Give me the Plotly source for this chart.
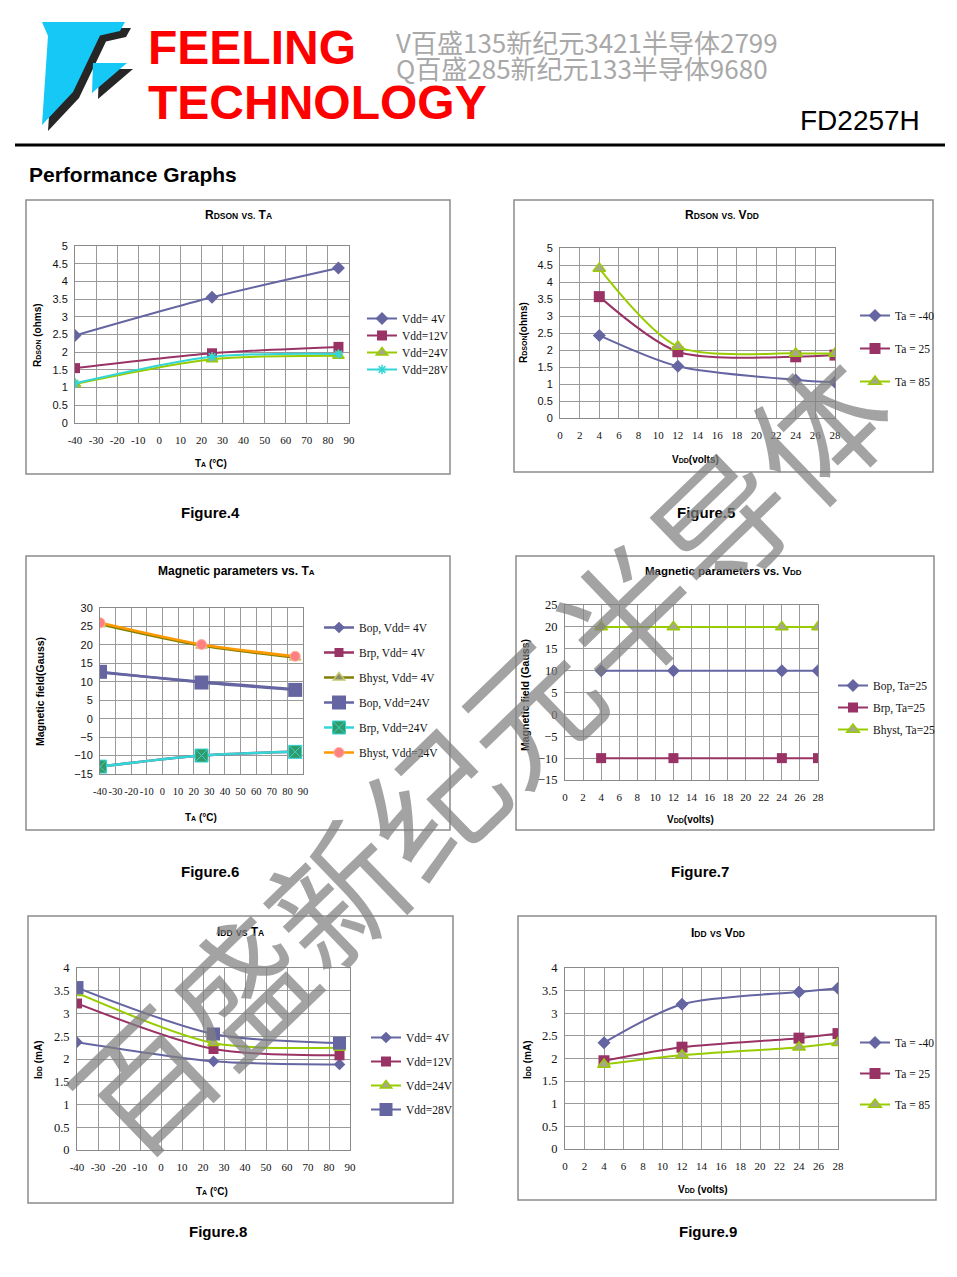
import plotly.graph_objects as go

W, H = 957, 1277
OFF = 8  # page body margin of the html page


def PX(x): return (x - OFF) / W
def PY(y): return 1 - (y - OFF) / H

# ---------------- data ----------------
ta = [-40, 25, 85]
vdd = [4, 12, 24, 28]

ta_ticks = [-40, -30, -20, -10, 0, 10, 20, 30, 40, 50, 60, 70, 80, 90]
vdd_ticks = [0, 2, 4, 6, 8, 10, 12, 14, 16, 18, 20, 22, 24, 26, 28]

rdson_ta_names = ['Vdd= 4V', 'Vdd=12V', 'Vdd=24V', 'Vdd=28V']
rdson_ta_4v = [2.47, 3.55, 4.38]
rdson_ta_12v = [1.55, 1.97, 2.15]
rdson_ta_24v = [1.10, 1.80, 1.90]
rdson_ta_28v = [1.12, 1.87, 1.95]

rdson_vdd_names = ['Ta = -40', 'Ta = 25', 'Ta = 85']
rdson_vdd_m40 = [2.43, 1.52, 1.12, 1.05]
rdson_vdd_25 = [3.57, 1.95, 1.80, 1.85]
rdson_vdd_85 = [4.40, 2.10, 1.90, 1.90]

mag_ta_names = ['Bop, Vdd= 4V', 'Brp, Vdd= 4V', 'Bhyst, Vdd= 4V',
                'Bop, Vdd=24V', 'Brp, Vdd=24V', 'Bhyst, Vdd=24V']
bop_4v = [12.5, 10.0, 8.0]
brp_4v = [-13.0, -10.0, -9.0]
bhyst_4v = [25.6, 19.8, 16.6]
bop_24v = [12.7, 9.8, 7.8]
brp_24v = [-13.0, -10.0, -9.0]
bhyst_24v = [26.0, 20.1, 16.9]

mag_vdd_names = ['Bop, Ta=25', 'Brp, Ta=25', 'Bhyst, Ta=25']
bop_25 = [10, 10, 10, 10]
brp_25 = [-10, -10, -10, -10]
bhyst_25 = [20, 20, 20, 20]

idd_ta_names = ['Vdd= 4V', 'Vdd=12V', 'Vdd=24V', 'Vdd=28V']
idd_ta_4v = [2.37, 1.95, 1.88]
idd_ta_12v = [3.22, 2.22, 2.08]
idd_ta_24v = [3.45, 2.35, 2.25]
idd_ta_28v = [3.57, 2.55, 2.35]

idd_vdd_names = ['Ta = -40', 'Ta = 25', 'Ta = 85']
idd_vdd_m40 = [2.35, 3.20, 3.47, 3.55]
idd_vdd_25 = [1.95, 2.25, 2.45, 2.55]
idd_vdd_85 = [1.87, 2.07, 2.25, 2.35]

# ---------------- styles ----------------
SB = '#6565A2'
MR = '#993366'
GR = '#99CC00'
CY = '#33D6D6'
OL = '#808000'
OR = '#FF9900'
SANS = 'Liberation Sans, Arial'
SERIF = 'Liberation Serif, Times New Roman'

fig = go.Figure()

charts = [
    dict(box=(26, 200, 450, 474), plot=(75, 246, 349, 423), xr=(-40, 90), xt=ta_ticks, yr=(0, 5), yd=0.5,
         xfs=11, yfont=SANS, yfs=11, leg=(362, 304), gap=0),
    dict(box=(514, 200, 933, 472), plot=(560, 248, 835, 418), xr=(0, 28), xt=vdd_ticks, yr=(0, 5), yd=0.5,
         xfs=11, yfont=SANS, yfs=11, leg=(855, 301), gap=14),
    dict(box=(26, 556, 450, 830), plot=(100, 608, 303, 774), xr=(-40, 90), xt=ta_ticks, yr=(-15, 30), yd=5,
         xfs=10.5, yfont=SANS, yfs=11, leg=(319, 613), gap=6),
    dict(box=(516, 556, 934, 830), plot=(565, 605, 818, 780), xr=(0, 28), xt=vdd_ticks, yr=(-15, 25), yd=5,
         xfs=11, yfont=SERIF, yfs=12.5, leg=(833, 671), gap=3),
    dict(box=(28, 916, 453, 1203), plot=(77, 968, 350, 1150), xr=(-40, 90), xt=ta_ticks, yr=(0, 4), yd=0.5,
         xfs=11, yfont=SERIF, yfs=12.5, leg=(366, 1023), gap=5),
    dict(box=(518, 916, 936, 1200), plot=(565, 968, 838, 1149), xr=(0, 28), xt=vdd_ticks, yr=(0, 4), yd=0.5,
         xfs=11, yfont=SERIF, yfs=12.5, leg=(855, 1028), gap=12),
]

layout = {}
shapes = []
annotations = []


def legend_box(lx, ly, gap):
    return dict(x=PX(lx), y=PY(ly), xanchor='left', yanchor='top', bgcolor='rgba(0,0,0,0)',
                font=dict(family=SERIF, size=11.5, color='#111'), tracegroupgap=gap,
                itemwidth=30, traceorder='grouped', itemclick=False, itemdoubleclick=False)


for i, c in enumerate(charts):
    n = '' if i == 0 else str(i + 1)
    l, t, r, b = c['plot']
    layout['xaxis' + n] = dict(
        domain=[PX(l), PX(r)], range=list(c['xr']), tickmode='array', tickvals=c['xt'],
        ticktext=[str(v) for v in c['xt']], anchor='y' + n,
        showgrid=True, gridcolor='#9A9A9A', gridwidth=1, zeroline=False,
        showline=True, mirror=True, linecolor='#8A8A8A', linewidth=1,
        ticks='outside', ticklen=7, tickcolor='rgba(0,0,0,0)', tickangle=0,
        tickfont=dict(family=SERIF, size=c['xfs'], color='#111'), fixedrange=True)
    layout['yaxis' + n] = dict(
        domain=[PY(b), PY(t)], range=list(c['yr']), dtick=c['yd'], tick0=0, anchor='x' + n,
        showgrid=True, gridcolor='#9A9A9A', gridwidth=1, zeroline=False,
        showline=True, mirror=True, linecolor='#8A8A8A', linewidth=1,
        ticks='outside', ticklen=4, tickcolor='rgba(0,0,0,0)',
        tickfont=dict(family=c['yfont'], size=c['yfs'], color='#111'), fixedrange=True)
    lx, ly = c['leg']
    layout['legend' + n] = legend_box(lx, ly, c['gap'])
    bx0, by0, bx1, by1 = c['box']
    shapes.append(dict(type='rect', xref='paper', yref='paper', x0=PX(bx0), x1=PX(bx1),
                       y0=PY(by1), y1=PY(by0), line=dict(color='#8C8C8C', width=1.5),
                       layer='below'))

# Figure 4 legend entries are tighter than one plotly legend allows: one legend per entry
fig4_legends = ['legend', 'legend7', 'legend8', 'legend9']
for k, lg in enumerate(fig4_legends[1:], start=1):
    layout[lg] = legend_box(362, 304 + 17 * k, 0)


def add(ci, x, y, name, color, symbol, msize, mfill=None, mline=None, mlw=0, lw=2,
        shape='spline', legend=None):
    n = '' if ci == 0 else str(ci + 1)
    fig.add_trace(go.Scatter(
        x=x, y=y, name=name, mode='lines+markers',
        line=dict(color=color, width=lw, shape=shape, smoothing=0.8),
        marker=dict(symbol=symbol, size=msize, color=mfill or color,
                    line=dict(color=mline or color, width=mlw)),
        xaxis='x' + n, yaxis='y' + n, legend=legend or ('legend' + n),
        legendgroup='c%d_%s' % (ci, name), hoverinfo='skip'))

# Figure 4
add(0, ta, rdson_ta_4v, rdson_ta_names[0], SB, 'diamond', 10, legend=fig4_legends[0])
add(0, ta, rdson_ta_12v, rdson_ta_names[1], MR, 'square', 10, legend=fig4_legends[1])
add(0, ta, rdson_ta_24v, rdson_ta_names[2], GR, 'triangle-up', 10, '#A7A78A', GR, 1.5,
    legend=fig4_legends[2])
add(0, ta, rdson_ta_28v, rdson_ta_names[3], CY, 'asterisk-open', 8, None, CY, 1.5,
    legend=fig4_legends[3])
# Figure 5
add(1, vdd, rdson_vdd_m40, rdson_vdd_names[0], SB, 'diamond', 10)
add(1, vdd, rdson_vdd_25, rdson_vdd_names[1], MR, 'square', 11)
add(1, vdd, rdson_vdd_85, rdson_vdd_names[2], GR, 'triangle-up', 11, '#A7A78A', GR, 1.5)
# Figure 6
add(2, ta, bop_4v, mag_ta_names[0], SB, 'diamond', 9, lw=2.5)
add(2, ta, brp_4v, mag_ta_names[1], MR, 'square', 9, lw=2.5)
add(2, ta, bhyst_4v, mag_ta_names[2], OL, 'triangle-up', 10, '#8C8C6E', '#C8C870', 1.5, lw=2.5)
add(2, ta, bop_24v, mag_ta_names[3], SB, 'square', 14, lw=2.5)
add(2, ta, brp_24v, mag_ta_names[4], CY, 'square-x', 13, '#339966', '#33D6D6', 1, lw=2.5)
add(2, ta, bhyst_24v, mag_ta_names[5], OR, 'circle', 10, '#FF8080', '#FFB0A0', 1, lw=2.5)
# Figure 7
add(3, vdd, bop_25, mag_vdd_names[0], SB, 'diamond', 10, shape='linear')
add(3, vdd, brp_25, mag_vdd_names[1], MR, 'square', 10, shape='linear')
add(3, vdd, bhyst_25, mag_vdd_names[2], GR, 'triangle-up', 11, '#A7A78A', GR, 1.5, shape='linear')
# Figure 8
add(4, ta, idd_ta_4v, idd_ta_names[0], SB, 'diamond', 9)
add(4, ta, idd_ta_12v, idd_ta_names[1], MR, 'square', 10)
add(4, ta, idd_ta_24v, idd_ta_names[2], GR, 'triangle-up', 10, '#A7A78A', GR, 1.5)
add(4, ta, idd_ta_28v, idd_ta_names[3], SB, 'square', 13)
# Figure 9
add(5, vdd, idd_vdd_m40, idd_vdd_names[0], SB, 'diamond', 10)
add(5, vdd, idd_vdd_25, idd_vdd_names[1], MR, 'square', 11)
add(5, vdd, idd_vdd_85, idd_vdd_names[2], GR, 'triangle-up', 11, '#A7A78A', GR, 1.5)


def sc(s, sz):
    return "<span style='font-size:%spx'>%s</span>" % (sz, s)


def ann(x, y, text, size, family=SANS, color='#000', angle=0, xanchor='center', bold=False):
    f = dict(family=family, size=size, color=color)
    if bold:
        f['weight'] = 'bold'
    annotations.append(dict(x=PX(x), y=PY(y), xref='paper', yref='paper', text=text,
                            showarrow=False, font=f, textangle=angle, xanchor=xanchor,
                            yanchor='middle'))

# chart titles
ann(238, 215, 'R' + sc('DSON', 8.5) + ' ' + sc('VS.', 8.5) + ' T' + sc('A', 8.5), 12, bold=True)
ann(722, 215, 'R' + sc('DSON', 8.5) + ' ' + sc('VS.', 8.5) + ' V' + sc('DD', 8.5), 12, bold=True)
ann(236, 571, 'Magnetic parameters vs. T' + sc('A', 8), 12, bold=True)
ann(723, 571, 'Magnetic parameters vs. V' + sc('DD', 8), 11.5, bold=True)
ann(240, 932, 'I' + sc('DD', 8.5) + ' ' + sc('VS', 8.5) + ' T' + sc('A', 8.5), 12, bold=True)
ann(718, 933, 'I' + sc('DD', 8.5) + ' ' + sc('VS', 8.5) + ' V' + sc('DD', 8.5), 12, bold=True)

# axis titles
ann(37, 335, 'R' + sc('DSON', 7) + ' (ohms)', 10, angle=-90, bold=True)
ann(524, 333, 'R' + sc('DSON', 7) + '(ohms)', 10, angle=-90, bold=True)
ann(40, 692, 'Magnetic field(Gauss)', 10.5, angle=-90, bold=True)
ann(525, 695, 'Magnetic field (Gauss)', 10.5, angle=-90, bold=True)
ann(38, 1060, 'I' + sc('DD', 7) + ' (mA)', 10, angle=-90, bold=True)
ann(527, 1060, 'I' + sc('DD', 7) + ' (mA)', 10, angle=-90, bold=True)

ann(211, 463, 'T' + sc('A', 7) + ' (°C)', 10, bold=True)
ann(695, 460, 'V' + sc('DD', 7) + '(volts)', 10, bold=True)
ann(201, 817, 'T' + sc('A', 7) + ' (°C)', 10, bold=True)
ann(690, 819, 'V' + sc('DD', 7) + '(volts)', 10, bold=True)
ann(212, 1191, 'T' + sc('A', 7) + ' (°C)', 10, bold=True)
ann(703, 1189, 'V' + sc('DD', 7) + ' (volts)', 10, bold=True)

# figure labels
for (x, y, t) in [(210, 512, 'Figure.4'), (706, 512, 'Figure.5'), (210, 871, 'Figure.6'),
                  (700, 871, 'Figure.7'), (218, 1231, 'Figure.8'), (708, 1231, 'Figure.9')]:
    ann(x, y, t, 15, bold=True)

# header
ann(146, 48, 'FEELING', 48, color='#FF0000', xanchor='left', bold=True)
ann(146, 103, 'TECHNOLOGY', 48, color='#FF0000', xanchor='left', bold=True)
ann(394, 42, 'V百盛135新纪元3421半导体2799', 26, family='Noto Sans CJK SC', color='#A8A8A8',
    xanchor='left')
ann(394, 68, 'Q百盛285新纪元133半导体9680', 26, family='Noto Sans CJK SC', color='#A8A8A8',
    xanchor='left')
ann(922, 121, 'FD2257H', 28, color='#000', xanchor='right')
ann(27, 174, 'Performance Graphs', 21, xanchor='left', bold=True)

shapes.append(dict(type='line', xref='paper', yref='paper', x0=PX(15), x1=PX(945),
                   y0=PY(145), y1=PY(145), line=dict(color='#000', width=3)))


def path(pts, dx=0, dy=0):
    return 'M ' + ' L '.join('%f,%f' % (PX(x + dx), PY(y + dy)) for x, y in pts) + ' Z'

logo_main = [(42, 22), (125, 22), (120, 31), (100, 35.5), (73, 92), (42, 125), (48, 36)]
logo_small = [(93, 63), (127, 63), (92, 93)]
for pts in (logo_main, logo_small):
    shapes.append(dict(type='path', xref='paper', yref='paper', path=path(pts, 6, 6),
                       fillcolor='rgba(0,0,0,0.85)', line=dict(width=0)))
for pts in (logo_main, logo_small):
    shapes.append(dict(type='path', xref='paper', yref='paper', path=path(pts),
                       fillcolor='#16C8F6', line=dict(width=0)))

# watermark
annotations.append(dict(x=PX(478), y=PY(752), xref='paper', yref='paper',
                        text='百盛新纪元半导体', showarrow=False, textangle=-44,
                        font=dict(family='Noto Sans CJK SC', size=134,
                                  color='rgba(128,128,128,0.72)')))

fig.update_layout(**layout)
fig.update_layout(width=W, height=H, margin=dict(l=0, r=0, t=0, b=0, pad=0, autoexpand=False),
                  paper_bgcolor='white', plot_bgcolor='white', showlegend=True,
                  shapes=shapes, annotations=annotations)
fig.write_html('out.html')
